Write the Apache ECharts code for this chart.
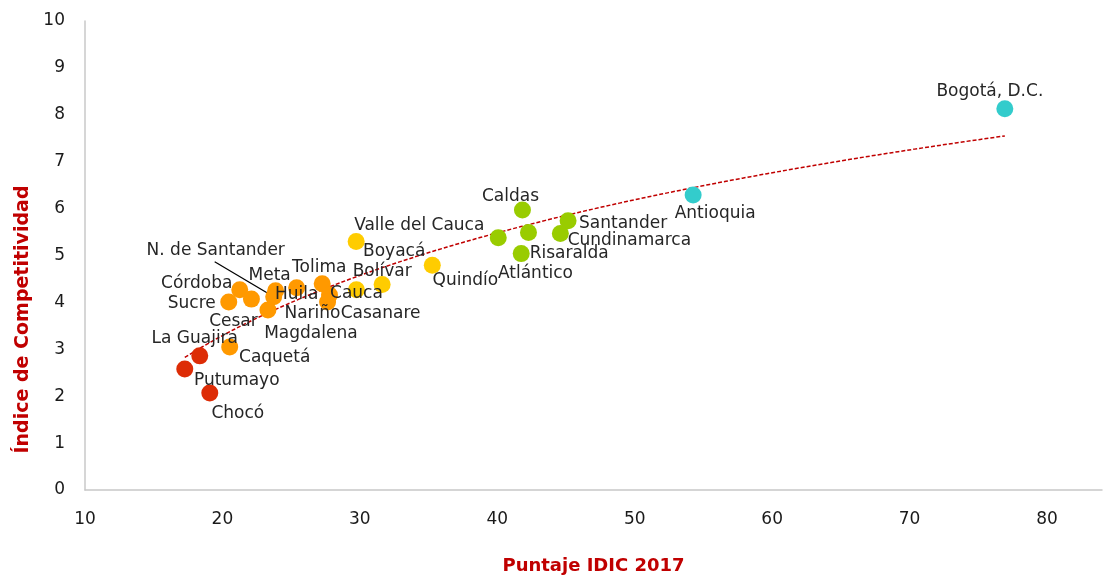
<!DOCTYPE html>
<html>
<head>
<meta charset="utf-8">
<script src="https://cdn.jsdelivr.net/npm/echarts@6/dist/echarts.min.js"></script>
<style>
  html, body { margin: 0; padding: 0; background: #fff; }
  #chart { width: 1105px; height: 580px; }
</style>
</head>
<body>
<div id="chart"></div>
<script>
// datos por departamento
const departamentos = [
  "Bogotá, D.C.", "Antioquia",
  "Caldas", "Santander", "Cundinamarca", "Valle del Cauca", "Atlántico", "Risaralda",
  "Boyacá", "Cauca", "Bolívar", "Quindío",
  "Caquetá", "Córdoba", "Sucre", "Cesar", "Magdalena", "N. de Santander", "Meta",
  "Huila", "Tolima", "Nariño", "Casanare",
  "La Guajira", "Putumayo", "Chocó"
];
const puntajeIDIC = [
  76.93, 54.25,
  41.83, 45.15, 44.59, 40.07, 42.27, 41.74,
  29.73, 29.75, 31.62, 35.27,
  20.53, 21.26, 20.46, 22.11, 23.31, 23.73, 23.87,
  25.40, 27.26, 27.79, 27.65,
  18.35, 17.26, 19.08
];
const indiceCompetitividad = [
  8.13, 6.29,
  5.97, 5.74, 5.47, 5.38, 5.49, 5.04,
  5.30, 4.27, 4.38, 4.79,
  3.05, 4.27, 4.01, 4.07, 3.84, 4.12, 4.25,
  4.31, 4.40, 4.16, 4.01,
  2.86, 2.58, 2.07
];
const nivelIDIC = [
  "Alto", "Alto",
  "Medio alto", "Medio alto", "Medio alto", "Medio alto", "Medio alto", "Medio alto",
  "Medio", "Medio", "Medio", "Medio",
  "Medio bajo", "Medio bajo", "Medio bajo", "Medio bajo", "Medio bajo", "Medio bajo", "Medio bajo",
  "Medio bajo", "Medio bajo", "Medio bajo", "Medio bajo",
  "Bajo", "Bajo", "Bajo"
];
const niveles = ["Alto", "Medio alto", "Medio", "Medio bajo", "Bajo"];

const colores = {
  "Alto": "#33CCCC",
  "Medio alto": "#99CC00",
  "Medio": "#FFCC00",
  "Medio bajo": "#FF9900",
  "Bajo": "#DD2C06"
};

// desplazamiento de cada etiqueta respecto al punto (px)
const labelOffset = {
  "Bogotá, D.C.": [-15, -19], "Antioquia": [22, 17],
  "Caldas": [-12, -15], "Santander": [55, 1], "Cundinamarca": [69, 5],
  "Valle del Cauca": [-79, -14], "Atlántico": [7, 39], "Risaralda": [48, -2],
  "Boyacá": [38, 8], "Cauca": [0, 2], "Bolívar": [0, -15], "Quindío": [33, 13],
  "Caquetá": [45, 9], "Córdoba": [-43, -8], "Sucre": [-37, 0], "Cesar": [-18, 20],
  "Magdalena": [43, 22], "N. de Santander": [-58, -48], "Meta": [-6, -17],
  "Huila": [0, 5], "Tolima": [-3, -18], "Nariño": [-17, 17], "Casanare": [53, 10],
  "La Guajira": [-5, -19], "Putumayo": [52, 10], "Chocó": [28, 19]
};

// linea de tendencia logaritmica (minimos cuadrados)
let sx = 0, sy = 0, sxx = 0, sxy = 0;
const n = puntajeIDIC.length;
puntajeIDIC.forEach((x, i) => {
  const lx = Math.log(x);
  sx += lx; sy += indiceCompetitividad[i];
  sxx += lx * lx; sxy += lx * indiceCompetitividad[i];
});
const b = (n * sxy - sx * sy) / (n * sxx - sx * sx);
const a = (sy - b * sx) / n;
const xMin = Math.min(...puntajeIDIC), xMax = Math.max(...puntajeIDIC);
const tendencia = [];
for (let k = 0; k <= 100; k++) {
  const x = xMin + (xMax - xMin) * k / 100;
  tendencia.push([x, a + b * Math.log(x)]);
}

const fontFamily = "DejaVu Sans";

const series = [{
  name: "Tendencia",
  type: "line",
  data: tendencia,
  symbol: "none",
  silent: true,
  z: 1,
  lineStyle: { color: "#C00000", width: 1.5, type: [4, 2] }
}];

niveles.forEach((nivel) => {
  const data = [];
  departamentos.forEach((d, i) => {
    if (nivelIDIC[i] !== nivel) return;
    data.push({ name: d, value: [puntajeIDIC[i], indiceCompetitividad[i]] });
  });
  series.push({
    name: nivel,
    type: "scatter",
    data: data,
    symbolSize: 17,
    z: 3,
    itemStyle: { color: colores[nivel], opacity: 1 },
    label: {
      show: true,
      position: "inside",
      formatter: "{b}",
      color: "#262626",
      fontSize: 17,
      fontFamily: fontFamily
    },
    labelLayout: (params) => {
      const off = labelOffset[params.text] || [0, 0];
      return { dx: off[0], dy: off[1] + 2 };
    }
  });
});

const chart = echarts.init(document.getElementById("chart"));
chart.setOption({
  animation: false,
  textStyle: { fontFamily: fontFamily },
  grid: { left: 85, right: 0, top: 21, bottom: 89.5 },
  xAxis: {
    type: "value",
    min: 10,
    max: 84,
    interval: 10,
    name: "Puntaje IDIC 2017",
    nameLocation: "middle",
    nameGap: 67,
    nameTextStyle: { color: "#C00000", fontWeight: "bold", fontSize: 18, fontFamily: fontFamily },
    axisLine: { lineStyle: { color: "#C8C8C8", width: 1.5 } },
    axisTick: { show: false },
    splitLine: { show: false },
    axisLabel: {
      color: "#1a1a1a",
      fontSize: 17,
      margin: 21,
      formatter: (v) => (v % 10 === 0 ? v : "")
    }
  },
  yAxis: {
    type: "value",
    min: 0,
    max: 10,
    interval: 1,
    name: "Índice de Competitividad",
    nameLocation: "middle",
    nameGap: 52,
    nameTextStyle: {
      color: "#C00000", fontWeight: "bold", fontSize: 19, fontFamily: fontFamily,
      padding: [0, 128, 0, 0]
    },
    axisLine: { show: true, lineStyle: { color: "#C8C8C8", width: 1.5 } },
    axisTick: { show: false },
    splitLine: { show: false },
    axisLabel: { color: "#1a1a1a", fontSize: 17, margin: 20 }
  },
  series: series
});

// linea guia de la etiqueta de N. de Santander
const iNS = departamentos.indexOf("N. de Santander");
const pNS = chart.convertToPixel({ gridIndex: 0 }, [puntajeIDIC[iNS], indiceCompetitividad[iNS]]);
const offNS = labelOffset["N. de Santander"];
chart.setOption({
  graphic: [{
    type: "line",
    z: 2,
    silent: true,
    shape: {
      x1: pNS[0] + offNS[0] - 1, y1: pNS[1] + offNS[1] + 13,
      x2: pNS[0], y2: pNS[1]
    },
    style: { stroke: "#000", lineWidth: 1.3 }
  }]
});
</script>
</body>
</html>
